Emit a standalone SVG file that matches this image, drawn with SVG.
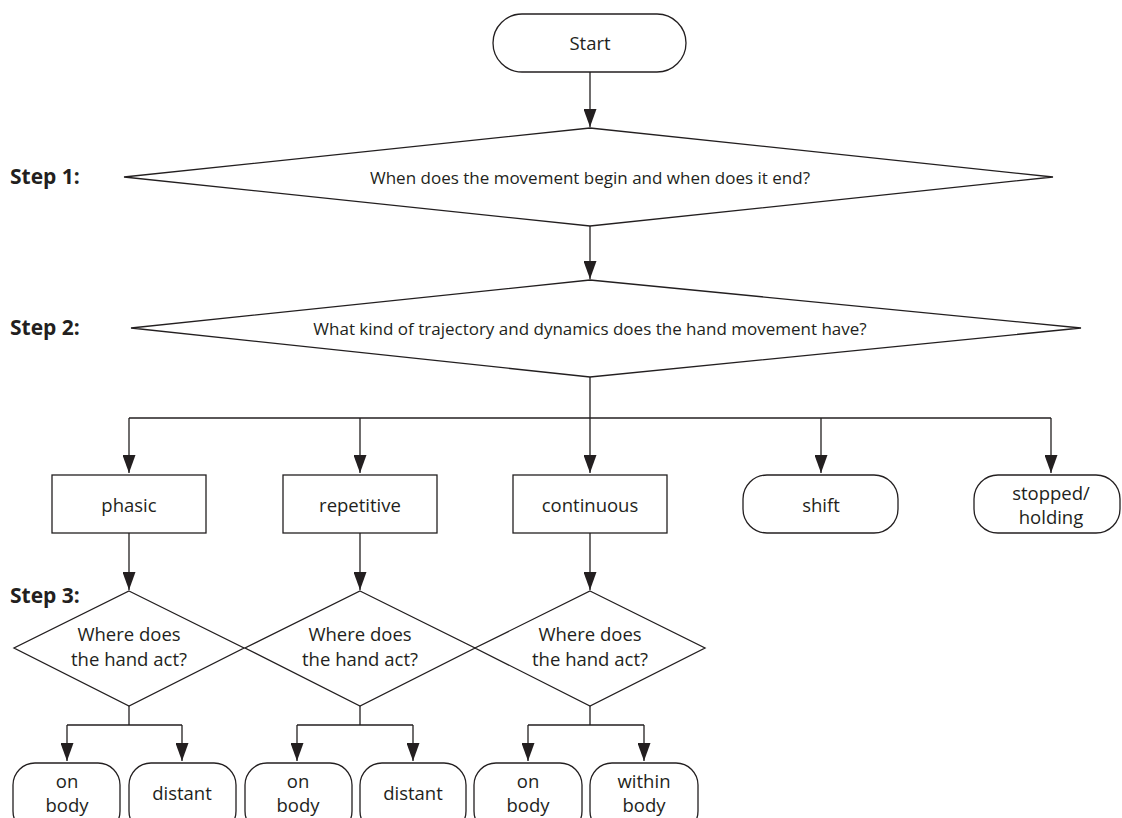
<svg xmlns="http://www.w3.org/2000/svg" width="1122" height="818" viewBox="0 0 1122 818">
<defs>
<marker id="ah" viewBox="0 0 18 13" refX="18" refY="6.5" markerWidth="18" markerHeight="13" markerUnits="userSpaceOnUse" orient="auto">
<path d="M0,0 L18,6.5 L0,13 z" fill="#231f20"/>
</marker>
<style>
.s{fill:#fff;stroke:#231f20;stroke-width:1.3}
.c{fill:none;stroke:#231f20;stroke-width:1.3}
.t{font-family:"Open Sans","Noto Sans","Liberation Sans",sans-serif;font-size:18.5px;fill:#231f20;text-anchor:middle;dominant-baseline:central}
.q{font-size:17px}
.b{font-family:"Open Sans","Noto Sans","Liberation Sans",sans-serif;font-size:21px;font-weight:bold;fill:#231f20}
</style>
</defs>
<rect width="1122" height="818" fill="#fff"/>
<g id="labels">
<text class="b" x="10" y="184">Step 1:</text>
<text class="b" x="10" y="335">Step 2:</text>
<text class="b" x="10" y="603">Step 3:</text>
</g>
<g id="connectors">
<path class="c" d="M590,72 V127" marker-end="url(#ah)"/>
<path class="c" d="M590,226 V279" marker-end="url(#ah)"/>
<path class="c" d="M590,377 V418"/>
<path class="c" d="M129,418 H1051"/>
<path class="c" d="M129,418 V473" marker-end="url(#ah)"/>
<path class="c" d="M360,418 V473" marker-end="url(#ah)"/>
<path class="c" d="M590,418 V473" marker-end="url(#ah)"/>
<path class="c" d="M821,418 V473" marker-end="url(#ah)"/>
<path class="c" d="M1051,418 V473" marker-end="url(#ah)"/>
<path class="c" d="M129,533 V590" marker-end="url(#ah)"/>
<path class="c" d="M360,533 V590" marker-end="url(#ah)"/>
<path class="c" d="M590,533 V590" marker-end="url(#ah)"/>
<path class="c" d="M129,706 V725 M67,725 H182"/>
<path class="c" d="M67,725 V761" marker-end="url(#ah)"/>
<path class="c" d="M182,725 V761" marker-end="url(#ah)"/>
<path class="c" d="M360,706 V725 M297,725 H413"/>
<path class="c" d="M297,725 V761" marker-end="url(#ah)"/>
<path class="c" d="M413,725 V761" marker-end="url(#ah)"/>
<path class="c" d="M590,706 V725 M528,725 H644"/>
<path class="c" d="M528,725 V761" marker-end="url(#ah)"/>
<path class="c" d="M644,725 V761" marker-end="url(#ah)"/>
</g>
<g id="start"><rect class="s" x="493" y="14" width="193" height="58" rx="29"/><text class="t" x="590" y="42">Start</text></g>
<g id="step1"><polygon class="s" points="590,128 1053,177 590,226 124,177"/><text class="t q" x="590" y="177">When does the movement begin and when does it end?</text></g>
<g id="step2"><polygon class="s" points="590,280 1081,328 590,377 131,328"/><text class="t q" x="590" y="328">What kind of trajectory and dynamics does the hand movement have?</text></g>
<g id="phasic"><rect class="s" x="52" y="475" width="154" height="58"/><text class="t" x="129" y="504">phasic</text></g>
<g id="repetitive"><rect class="s" x="283" y="475" width="154" height="58"/><text class="t" x="360" y="504">repetitive</text></g>
<g id="continuous"><rect class="s" x="513" y="475" width="154" height="58"/><text class="t" x="590" y="504">continuous</text></g>
<g id="shift"><rect class="s" x="743" y="475" width="155" height="58" rx="24"/><text class="t" x="821" y="504">shift</text></g>
<g id="stopped"><rect class="s" x="974" y="475" width="146" height="58" rx="24"/><text class="t" x="1051" y="492">stopped/</text><text class="t" x="1051" y="516">holding</text></g>
<g id="where1"><polygon class="s" points="129,591 244,648 129,706 14,648"/><text class="t" x="129" y="633">Where does</text><text class="t" x="129" y="658">the hand act?</text></g>
<g id="where2"><polygon class="s" points="360,591 475,648 360,706 245,648"/><text class="t" x="360" y="633">Where does</text><text class="t" x="360" y="658">the hand act?</text></g>
<g id="where3"><polygon class="s" points="590,591 705,648 590,706 475,648"/><text class="t" x="590" y="633">Where does</text><text class="t" x="590" y="658">the hand act?</text></g>
<g id="onbody1"><rect class="s" x="13" y="763" width="107" height="70" rx="22"/><text class="t" x="67" y="780">on</text><text class="t" x="67" y="804">body</text></g>
<g id="distant1"><rect class="s" x="129" y="763" width="107" height="70" rx="22"/><text class="t" x="182" y="792">distant</text></g>
<g id="onbody2"><rect class="s" x="245" y="763" width="107" height="70" rx="22"/><text class="t" x="298" y="780">on</text><text class="t" x="298" y="804">body</text></g>
<g id="distant2"><rect class="s" x="360" y="763" width="106" height="70" rx="22"/><text class="t" x="413" y="792">distant</text></g>
<g id="onbody3"><rect class="s" x="474" y="763" width="108" height="70" rx="22"/><text class="t" x="528" y="780">on</text><text class="t" x="528" y="804">body</text></g>
<g id="within"><rect class="s" x="590" y="763" width="108" height="70" rx="22"/><text class="t" x="644" y="780">within</text><text class="t" x="644" y="804">body</text></g>
</svg>
